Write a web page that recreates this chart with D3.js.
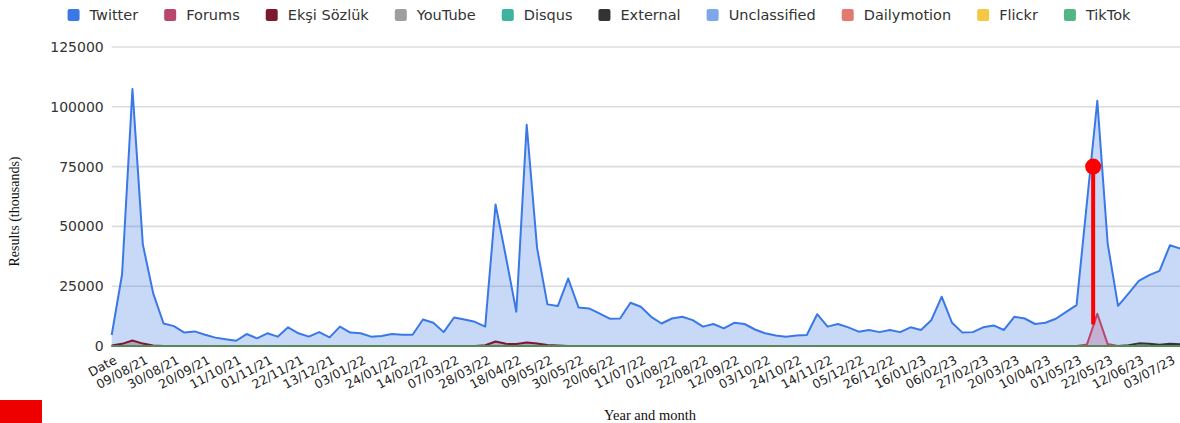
<!DOCTYPE html>
<html>
<head>
<meta charset="utf-8">
<script src="https://cdn.jsdelivr.net/npm/d3@7"></script>
<style>
  html, body { margin: 0; padding: 0; background: #fff; }
  svg { display: block; }
</style>
</head>
<body>
<svg id="chart" width="1180" height="423"></svg>
<script>
// ---------------- DATA ----------------
const categories = [
  "Date","26/07/21","02/08/21","09/08/21","16/08/21","23/08/21","30/08/21","06/09/21","13/09/21","20/09/21",
  "27/09/21","04/10/21","11/10/21","18/10/21","25/10/21","01/11/21","08/11/21","15/11/21","22/11/21","29/11/21",
  "06/12/21","13/12/21","20/12/21","27/12/21","03/01/22","10/01/22","17/01/22","24/01/22","31/01/22","07/02/22",
  "14/02/22","21/02/22","28/02/22","07/03/22","14/03/22","21/03/22","28/03/22","04/04/22","11/04/22","18/04/22",
  "25/04/22","02/05/22","09/05/22","16/05/22","23/05/22","30/05/22","06/06/22","13/06/22","20/06/22","27/06/22",
  "04/07/22","11/07/22","18/07/22","25/07/22","01/08/22","08/08/22","15/08/22","22/08/22","29/08/22","05/09/22",
  "12/09/22","19/09/22","26/09/22","03/10/22","10/10/22","17/10/22","24/10/22","31/10/22","07/11/22","14/11/22",
  "21/11/22","28/11/22","05/12/22","12/12/22","19/12/22","26/12/22","02/01/23","09/01/23","16/01/23","23/01/23",
  "30/01/23","06/02/23","13/02/23","20/02/23","27/02/23","06/03/23","13/03/23","20/03/23","27/03/23","03/04/23",
  "10/04/23","17/04/23","24/04/23","01/05/23","08/05/23","15/05/23","22/05/23","29/05/23","05/06/23","12/06/23",
  "19/06/23","26/06/23","03/07/23","10/07/23"
];
// tick labels shown on the axis (every third category)
const tickLabels = ["Date","09/08/21","30/08/21","20/09/21","11/10/21","01/11/21","22/11/21","13/12/21","03/01/22",
  "24/01/22","14/02/22","07/03/22","28/03/22","18/04/22","09/05/22","30/05/22","20/06/22","11/07/22","01/08/22",
  "22/08/22","12/09/22","03/10/22","24/10/22","14/11/22","05/12/22","26/12/22","16/01/23","06/02/23","27/02/23",
  "20/03/23","10/04/23","01/05/23","22/05/23","12/06/23","03/07/23"];
const yTicks = [0, 25000, 50000, 75000, 100000, 125000];

const twitter = [
  4600,30000,107400,42500,22000,9400,8300,5600,6100,4700,
  3500,2800,2200,5000,3200,5300,3900,7800,5300,3900,
  5800,3600,8100,5600,5300,3900,4200,5000,4700,4700,
  11100,9700,5800,11900,11100,10100,8100,59200,37200,14300,
  92500,41000,17400,16700,28200,16100,15700,13600,11400,11500,
  18100,16400,12200,9400,11500,12200,10800,8100,9200,7400,
  9700,9200,6900,5300,4400,3900,4400,4600,13300,8100,
  9200,7800,6000,6700,5800,6700,5800,7800,6700,10800,
  20600,9700,5600,5800,7800,8600,6700,12200,11500,9200,
  9700,11400,14300,17100,60000,102500,42800,16800,21900,27200,
  29600,31400,42100,40700
];
const forums = [
  0,0,0,0,0,0,0,0,0,0, 0,0,0,0,0,0,0,0,0,0, 0,0,0,0,0,0,0,0,0,0,
  0,0,0,0,0,0,0,0,0,0, 0,0,0,0,0,0,0,0,0,0, 0,0,0,0,0,0,0,0,0,0,
  0,0,0,0,0,0,0,0,0,0, 0,0,0,0,0,0,0,0,0,0, 0,0,0,0,0,0,0,0,0,0,
  0,0,0,0,600,13500,800,0,0,0, 0,0,0,0
];
const eksi = [
  200,900,2300,1000,200,0,0,0,0,0, 0,0,0,0,0,0,0,0,0,0, 0,0,0,0,0,0,0,0,0,0,
  0,0,0,0,0,0,300,1900,900,800, 1500,1000,400,200,0,0,0,0,0,0, 0,0,0,0,0,0,0,0,0,0,
  0,0,0,0,0,0,0,0,0,0, 0,0,0,0,0,0,0,0,0,0, 0,0,0,0,0,0,0,0,0,0,
  0,0,0,0,0,0,0,0,0,0, 0,0,0,0
];
const youtube = [
  0,0,0,0,0,0,0,0,0,0, 0,0,0,0,0,0,0,0,0,0, 0,0,0,0,0,0,0,0,0,0,
  0,0,0,0,0,0,0,0,0,0, 0,0,0,0,0,0,0,0,0,0, 0,0,0,0,0,0,0,0,0,0,
  0,0,0,0,0,0,0,0,0,0, 0,0,0,0,0,0,0,0,0,0, 0,0,0,0,0,0,0,0,0,0,
  0,0,0,0,0,0,0,0,0,0, 0,0,0,0
];
const disqus = [
  0,0,0,0,0,0,0,0,0,0, 0,0,0,0,0,0,0,0,0,0, 0,0,0,0,0,0,0,0,0,0,
  0,0,0,0,0,0,0,0,0,0, 0,0,0,0,0,0,0,0,0,0, 0,0,0,0,0,0,0,0,0,0,
  0,0,0,0,0,0,0,0,0,0, 0,0,0,0,0,0,0,0,0,0, 0,0,0,0,0,0,0,0,0,0,
  0,0,0,0,0,0,0,0,0,0, 0,0,0,0
];
const external = [
  0,0,0,0,0,0,0,0,0,0, 0,0,0,0,0,0,0,0,0,0, 0,0,0,0,0,0,0,0,0,0,
  0,0,0,0,0,0,0,0,0,0, 0,0,0,0,0,0,0,0,0,0, 0,0,0,0,0,0,0,0,0,0,
  0,0,0,0,0,0,0,0,0,0, 0,0,0,0,0,0,0,0,0,0, 0,0,0,0,0,0,0,0,0,0,
  0,0,0,0,0,0,0,0,300,1100, 900,500,900,700
];
const unclassified = [
  0,0,0,0,0,0,0,0,0,0, 0,0,0,0,0,0,0,0,0,0, 0,0,0,0,0,0,0,0,0,0,
  0,0,0,0,0,0,0,0,0,0, 0,0,0,0,0,0,0,0,0,0, 0,0,0,0,0,0,0,0,0,0,
  0,0,0,0,0,0,0,0,0,0, 0,0,0,0,0,0,0,0,0,0, 0,0,0,0,0,0,0,0,0,0,
  0,0,0,0,0,0,0,0,0,0, 0,0,0,0
];
const dailymotion = [
  0,0,0,0,0,0,0,0,0,0, 0,0,0,0,0,0,0,0,0,0, 0,0,0,0,0,0,0,0,0,0,
  0,0,0,0,0,0,0,0,0,0, 0,0,0,0,0,0,0,0,0,0, 0,0,0,0,0,0,0,0,0,0,
  0,0,0,0,0,0,0,0,0,0, 0,0,0,0,0,0,0,0,0,0, 0,0,0,0,0,0,0,0,0,0,
  0,0,0,0,0,0,0,0,0,0, 0,0,0,0
];
const flickr = [
  0,0,0,0,0,0,0,0,0,0, 0,0,0,0,0,0,0,0,0,0, 0,0,0,0,0,0,0,0,0,0,
  0,0,0,0,0,0,0,0,0,0, 0,0,0,0,0,0,0,0,0,0, 0,0,0,0,0,0,0,0,0,0,
  0,0,0,0,0,0,0,0,0,0, 0,0,0,0,0,0,0,0,0,0, 0,0,0,0,0,0,0,0,0,0,
  0,0,0,0,0,0,0,0,0,0, 0,0,0,0
];
const tiktok = [
  0,0,0,0,0,0,0,0,0,0, 0,0,0,0,0,0,0,0,0,0, 0,0,0,0,0,0,0,0,0,0,
  0,0,0,0,0,0,0,0,0,0, 0,0,0,0,0,0,0,0,0,0, 0,0,0,0,0,0,0,0,0,0,
  0,0,0,0,0,0,0,0,0,0, 0,0,0,0,0,0,0,0,0,0, 0,0,0,0,0,0,0,0,0,0,
  0,0,0,0,0,0,0,0,0,0, 0,0,0,0
];
const seriesNames = ["Twitter","Forums","Ekşi Sözlük","YouTube","Disqus","External","Unclassified","Dailymotion","Flickr","TikTok"];
const seriesValues = [twitter, forums, eksi, youtube, disqus, external, unclassified, dailymotion, flickr, tiktok];
const seriesColors = ["#3b78e7","#b8476e","#7b1832","#9e9e9e","#3fb39f","#333333","#7ea6ea","#e37a72","#f6c744","#52b684"];

// annotation (red marker) in data units
const markerIndex = 94.6, markerTop = 75000, markerBottom = 9000;

// ---------------- CHART ----------------
const svg = d3.select("#chart");
const W = 1180, H = 423;
const plot = { left: 111.7, right: 1180.3, top: 47, bottom: 346 };

const x = d3.scaleLinear().domain([0, categories.length - 1]).range([plot.left, plot.right]);
const y = d3.scaleLinear().domain([0, 125000]).range([plot.bottom, plot.top]);

// gridlines
svg.append("g").selectAll("line").data(yTicks.filter(d => d > 0)).join("line")
  .attr("x1", plot.left).attr("x2", W)
  .attr("y1", d => y(d)).attr("y2", d => y(d))
  .attr("stroke", "#dcdcdc").attr("stroke-width", 1.6);

// y tick labels
const yAxis = d3.axisLeft(y).tickValues(yTicks).tickSize(0).tickPadding(8).tickFormat(d3.format("d"));
const gy = svg.append("g").attr("transform", `translate(${plot.left},0)`).call(yAxis);
gy.select(".domain").remove();
gy.selectAll("text").attr("font-family", "'DejaVu Sans', sans-serif").attr("font-size", 14)
  .attr("fill", "#333").attr("x", -8);

// areas + lines
const idx = d3.range(categories.length);
const area = vals => d3.area().x(i => x(i)).y0(y(0)).y1(i => y(vals[i]))(idx);
const line = vals => d3.line().x(i => x(i)).y(i => y(vals[i]))(idx);

const gs = svg.append("g");
seriesValues.forEach((vals, k) => {
  gs.append("path").attr("d", area(vals)).attr("fill", seriesColors[k]).attr("fill-opacity", 0.28);
});
seriesValues.forEach((vals, k) => {
  gs.append("path").attr("d", line(vals)).attr("fill", "none")
    .attr("stroke", seriesColors[k]).attr("stroke-width", 2).attr("stroke-linejoin", "round");
});

// baseline
svg.append("line").attr("x1", plot.left).attr("x2", W).attr("y1", y(0)).attr("y2", y(0))
  .attr("stroke", "#5a7a4a").attr("stroke-width", 1.5);

// x tick labels
const tickIdx = tickLabels.map(t => categories.indexOf(t));
svg.append("g").selectAll("text").data(tickIdx).join("text")
  .attr("transform", i => `translate(${x(i) + 4},${plot.bottom + 13}) rotate(-28)`)
  .attr("text-anchor", "end")
  .attr("dy", "0.35em")
  .attr("font-family", "'DejaVu Sans', sans-serif").attr("font-size", 12.5)
  .attr("fill", "#222")
  .text(i => categories[i]);

// axis titles
svg.append("text")
  .attr("transform", `translate(19,${(plot.top + plot.bottom) / 2 + 15}) rotate(-90)`)
  .attr("text-anchor", "middle")
  .attr("font-family", "'Liberation Serif', 'Times New Roman', serif").attr("font-size", 14)
  .attr("fill", "#111").text("Results (thousands)");
svg.append("text")
  .attr("x", 650).attr("y", 420).attr("text-anchor", "middle")
  .attr("font-family", "'Liberation Serif', 'Times New Roman', serif").attr("font-size", 14.5)
  .attr("fill", "#111").text("Year and month");

// legend
const lg = svg.append("g");
let cx = 0;
const gap = 26;
const items = [];
seriesNames.forEach((name, k) => {
  const g = lg.append("g");
  g.append("rect").attr("x", 0).attr("y", -6).attr("width", 12).attr("height", 12).attr("rx", 2)
    .attr("fill", seriesColors[k]);
  const t = g.append("text").attr("x", 22).attr("y", 0).attr("dy", "0.35em")
    .attr("font-family", "'DejaVu Sans', sans-serif").attr("font-size", 14.5).attr("fill", "#333").text(name);
  const w = 22 + t.node().getComputedTextLength();
  items.push({ g, x: cx });
  cx += w + gap;
});
const totalW = cx - gap;
const startX = 599 - totalW / 2;
items.forEach(it => it.g.attr("transform", `translate(${startX + it.x},15)`));

// red annotation marker
svg.append("line")
  .attr("x1", x(markerIndex)).attr("x2", x(markerIndex))
  .attr("y1", y(markerTop)).attr("y2", y(markerBottom))
  .attr("stroke", "#ff0000").attr("stroke-width", 4);
svg.append("circle").attr("cx", x(markerIndex)).attr("cy", y(markerTop)).attr("r", 8).attr("fill", "#ff0000");

// red box bottom-left
svg.append("rect").attr("x", 0).attr("y", 400).attr("width", 42).attr("height", 23).attr("fill", "#ee0000");
</script>
</body>
</html>
